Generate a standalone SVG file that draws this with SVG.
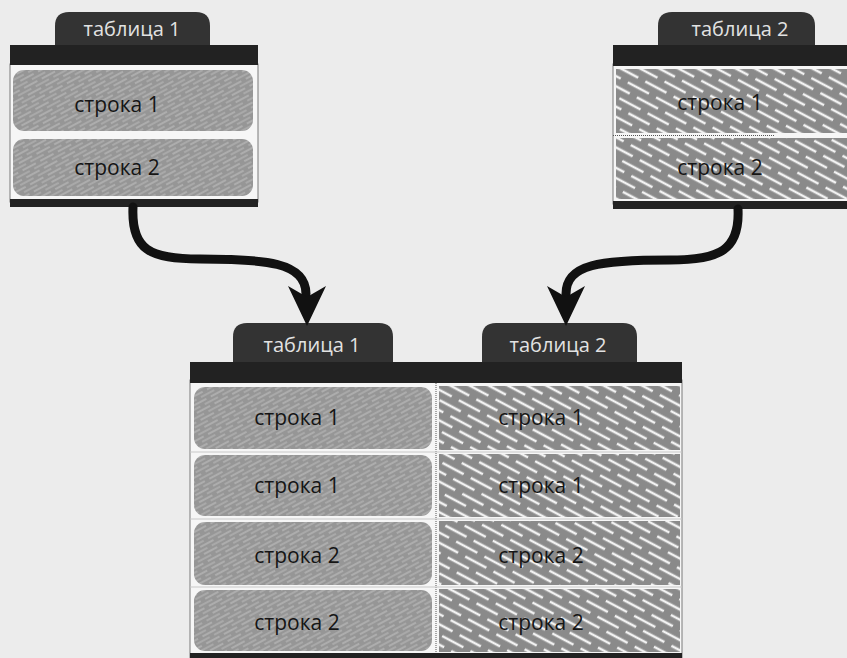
<svg xmlns="http://www.w3.org/2000/svg" width="847" height="658" viewBox="0 0 847 658">
<defs>
<pattern id="hatchA" width="20" height="8" patternUnits="userSpaceOnUse" patternTransform="rotate(-28)">
<rect width="20" height="8" fill="#969696"/>
<line x1="0" y1="1" x2="20" y2="1" stroke="#bcbcbc" stroke-width="1.2" stroke-dasharray="15 5"/>
<line x1="0" y1="5" x2="20" y2="5" stroke="#bcbcbc" stroke-width="1.2" stroke-dasharray="15 5" stroke-dashoffset="9"/>
</pattern>
<pattern id="hatchB" width="32" height="18" patternUnits="userSpaceOnUse" patternTransform="rotate(28)">
<rect width="32" height="18" fill="#8a8a8a"/>
<line x1="0" y1="3" x2="32" y2="3" stroke="#f2f2f2" stroke-width="2.6" stroke-dasharray="24 8"/>
<line x1="0" y1="12" x2="32" y2="12" stroke="#f2f2f2" stroke-width="2.6" stroke-dasharray="24 8" stroke-dashoffset="15"/>
</pattern>
<style>
.bg{fill:#ececec}
.tab{fill:#333333}
.bar{fill:#222222}
.body{fill:#f6f6f6;stroke:#7a7a7a;stroke-width:1}
.cellA{fill:url(#hatchA)}
.cellB{fill:url(#hatchB)}
.sep{stroke:#555;stroke-width:1;stroke-dasharray:1 1}
.tabtxt{font-family:"Open Sans","Liberation Sans",Arial,sans-serif;font-size:20px;fill:#e2e2e2;text-anchor:middle}
.txt{font-family:"Open Sans","Liberation Sans",Arial,sans-serif;font-size:21px;fill:#151515;text-anchor:middle}
.wire{fill:none;stroke:#111;stroke-width:9;stroke-linecap:round}
.head{fill:#111}
</style>
</defs>
<rect class="bg" x="0" y="0" width="847" height="658"/>

<g id="table1-top">
<path class="tab" d="M55,47 V26 Q55,12 69,12 H196 Q210,12 210,26 V47 Z"/>
<rect class="body" x="10" y="64" width="248" height="138"/>
<rect class="bar" x="10" y="45" width="248" height="20"/>
<rect class="cellA" x="13" y="70" width="240" height="61" rx="11"/>
<rect class="cellA" x="13" y="139" width="240" height="57" rx="11"/>
<rect class="bar" x="10" y="199" width="248" height="8"/>
<text class="tabtxt" x="132" y="36">таблица 1</text>
<text class="txt" x="117" y="112">строка 1</text>
<text class="txt" x="117" y="175">строка 2</text>
</g>

<g id="table2-top">
<path class="tab" d="M658,47 V26 Q658,12 672,12 H801 Q815,12 815,26 V47 Z"/>
<rect class="body" x="613" y="64" width="240" height="140"/>
<rect class="bar" x="613" y="45" width="234" height="21"/>
<rect class="cellB" x="616" y="69" width="231" height="64"/>
<rect class="cellB" x="616" y="138" width="231" height="61"/>
<line class="sep" x1="613" y1="135.5" x2="775" y2="135.5"/>
<rect class="bar" x="613" y="201" width="234" height="8"/>
<text class="tabtxt" x="740" y="36">таблица 2</text>
<text class="txt" x="720" y="110">строка 1</text>
<text class="txt" x="720" y="175">строка 2</text>
</g>

<g id="table-merged">
<path class="tab" d="M233,364 V337 Q233,323 247,323 H379 Q393,323 393,337 V364 Z"/>
<path class="tab" d="M482,364 V337 Q482,323 496,323 H623 Q637,323 637,337 V364 Z"/>
<rect class="body" x="190" y="380" width="492" height="278"/>
<rect class="bar" x="190" y="362" width="492" height="21"/>
<line class="sep" x1="436" y1="383" x2="436" y2="654"/>
<rect class="cellA" x="194" y="387" width="238" height="62" rx="11"/>
<rect class="cellA" x="194" y="455" width="238" height="61" rx="11"/>
<rect class="cellA" x="194" y="522" width="238" height="63" rx="11"/>
<rect class="cellA" x="194" y="590" width="238" height="61" rx="11"/>
<rect class="cellB" x="439" y="386" width="241" height="64"/>
<rect class="cellB" x="439" y="454" width="241" height="63"/>
<rect class="cellB" x="439" y="521" width="241" height="64"/>
<rect class="cellB" x="439" y="589" width="241" height="63"/>
<line x1="190" y1="452" x2="682" y2="452" stroke="#c8c8c8" stroke-width="1"/>
<line x1="190" y1="519" x2="682" y2="519" stroke="#c8c8c8" stroke-width="1"/>
<line x1="190" y1="587" x2="682" y2="587" stroke="#c8c8c8" stroke-width="1"/>
<rect class="bar" x="190" y="653" width="492" height="5"/>
<text class="tabtxt" x="312" y="352">таблица 1</text>
<text class="tabtxt" x="558" y="352">таблица 2</text>
<text class="txt" x="297" y="425">строка 1</text>
<text class="txt" x="297" y="493">строка 1</text>
<text class="txt" x="297" y="563">строка 2</text>
<text class="txt" x="297" y="630">строка 2</text>
<text class="txt" x="541" y="425">строка 1</text>
<text class="txt" x="541" y="493">строка 1</text>
<text class="txt" x="541" y="563">строка 2</text>
<text class="txt" x="541" y="630">строка 2</text>
</g>

<g id="connectors">
<path class="wire" d="M133,207 C131,250 150,259 200,259 C265,259 306,262 306,294"/>
<path class="head" d="M288,286 L307,297 L326,286 L307,326 Z"/>
<path class="wire" d="M738,209 C740,250 720,260 670,260 C600,260 566,264 566,294"/>
<path class="head" d="M547,286 L566,297 L585,286 L566,326 Z"/>
</g>
</svg>
